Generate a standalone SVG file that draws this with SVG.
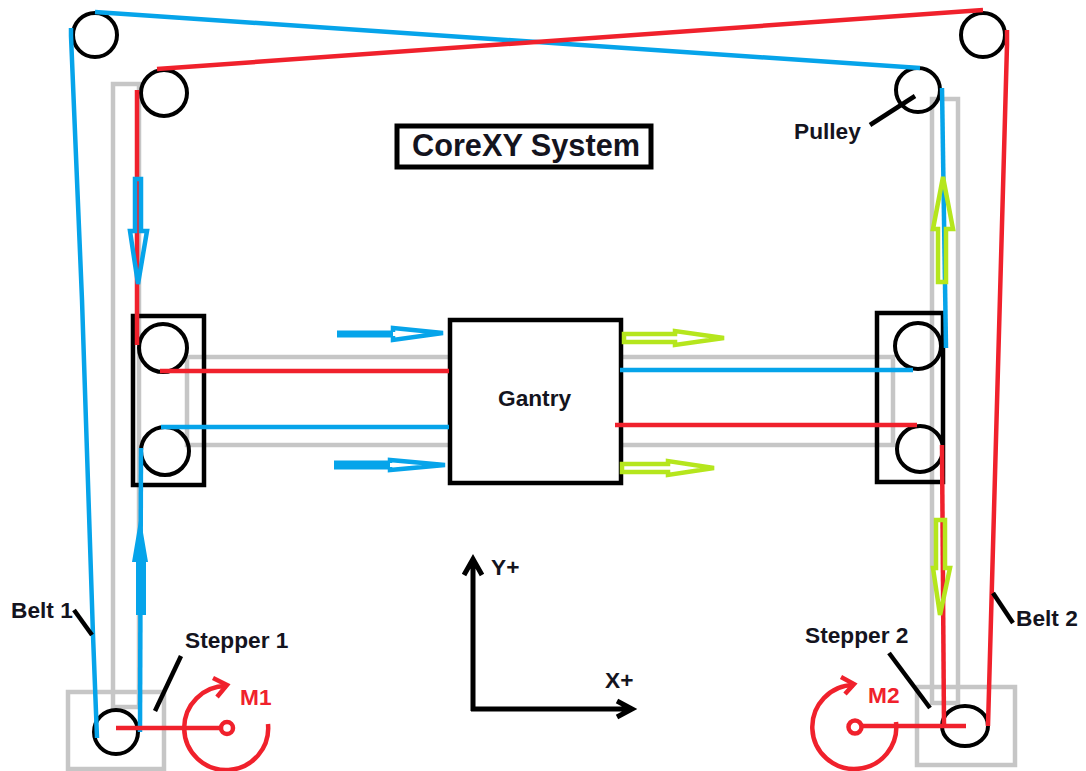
<svg xmlns="http://www.w3.org/2000/svg" width="1086" height="771" viewBox="0 0 1086 771">
<style>
text{font-family:"Liberation Sans",Arial,sans-serif;font-weight:bold;font-size:22.7px;fill:#14141e}
.rail{fill:none;stroke:#c6c6c6;stroke-width:4.5}
.box{fill:none;stroke:#000;stroke-width:4.5}
.pul{fill:none;stroke:#000;stroke-width:4}
.b{fill:none;stroke:#06a4ea;stroke-width:4.5}
.r{fill:none;stroke:#f0212c;stroke-width:4.5}
.lead{fill:none;stroke:#000;stroke-width:4.5}
.ah{fill:none;stroke-width:4.5;stroke-linejoin:miter}
.ab{stroke:#06a4ea}
.ag{stroke:#b5e61d}
.m{fill:none;stroke:#f0212c;stroke-width:4.5}
.ax{fill:none;stroke:#000;stroke-width:5}
</style>
<rect width="1086" height="771" fill="#fff"/>
<g id="rails">
<rect class="rail" x="113" y="84" width="26" height="623"/>
<rect class="rail" x="932" y="99" width="26" height="604"/>
<rect class="rail" x="187" y="357" width="706" height="88"/>
</g>
<g id="stepper-1-body"><rect class="rail" x="68" y="692" width="96" height="77"/></g>
<g id="stepper-2-body"><rect class="rail" x="917" y="687" width="98" height="78"/></g>
<g id="carriage-left"><rect class="box" x="133" y="316" width="71" height="169"/></g>
<g id="carriage-right"><rect class="box" x="877" y="313" width="66" height="169"/></g>
<g id="gantry"><rect x="450" y="320" width="171" height="163" fill="#fff" stroke="#000" stroke-width="4.5"/><text x="498" y="406">Gantry</text></g>
<g id="title"><rect x="397" y="126" width="254" height="41" fill="#fff" stroke="#000" stroke-width="5"/><text x="412" y="156" style="font-size:30.7px">CoreXY System</text></g>
<g id="pulley-tl-outer"><circle class="pul" cx="95" cy="35" r="22"/></g>
<g id="pulley-tl-inner"><circle class="pul" cx="164" cy="93" r="23"/></g>
<g id="pulley-tr-outer"><circle class="pul" cx="983" cy="35" r="22"/></g>
<g id="pulley-tr-inner"><circle class="pul" cx="918" cy="90" r="22"/></g>
<g id="pulley-left-upper"><circle class="pul" cx="163" cy="348" r="24"/></g>
<g id="pulley-left-lower"><circle class="pul" cx="165" cy="451" r="24"/></g>
<g id="pulley-right-upper"><circle class="pul" cx="918" cy="346" r="23"/></g>
<g id="pulley-right-lower"><circle class="pul" cx="920" cy="449" r="23"/></g>
<g id="pulley-stepper-1"><circle class="pul" cx="116" cy="732" r="22"/></g>
<g id="pulley-stepper-2"><ellipse class="pul" cx="965" cy="726" rx="23" ry="20"/></g>
<g id="connectors">
<path class="b" d="M71 28V36L82 300L93 635L97 738"/>
<path class="b" d="M95 12L920 68"/>
<path class="b" d="M942 88L946 348"/>
<path class="b" d="M161 427H449"/>
<path class="b" d="M620 370H913"/>
<path class="b" d="M141 448L140 732"/>
<path class="r" d="M157 69L983 10"/>
<path class="r" d="M137 90V345"/>
<path class="r" d="M160 371H449"/>
<path class="r" d="M615 425H917"/>
<path class="r" d="M942 445L944 726"/>
<path class="r" d="M1007 30V45L988 726"/>
<path d="M136 615V562H132L140 515L148 562H146V615Z" fill="#06a4ea"/>
<path class="ah ab" d="M135 179H141V231H147L138 284L130 231H135Z"/>
<path class="ah ag" d="M938 282H946V229H953L943 177L933 229H938Z"/>
<path class="ah ag" d="M936 520H945V568H950L940 615L933 568H936Z"/>
<path d="M337 334H393" stroke="#06a4ea" stroke-width="7" fill="none"/>
<path class="ah ab" d="M393 332V328L443 333L393 340V336"/>
<path d="M334 465H390" stroke="#06a4ea" stroke-width="9" fill="none"/>
<path class="ah ab" d="M390 463V460L445 465L390 470V467"/>
<path class="ah ag" d="M624 334H675V331L724 338L675 345V342H624Z"/>
<path class="ah ag" d="M622 464H668V461L714 468L668 475V472H622Z"/>
<path class="lead" d="M870 125L915 96"/>
<path class="lead" d="M74 610L92 635"/>
<path class="lead" d="M155 711L181 656"/>
<path class="lead" d="M889 653L930 708"/>
<path class="lead" d="M993 593L1013 623"/>
</g>
<g id="motor-1">
<path class="m" d="M116 728H221"/><circle class="m" cx="227" cy="728" r="6"/>
<path class="m" d="M268 724A42 42 0 1 1 227 686"/><path class="m" d="M213 678L227 685L217 697"/>
<text x="240" y="705" style="fill:#f0212c">M1</text>
</g>
<g id="motor-2">
<path class="m" d="M862 726H966"/><circle class="m" cx="855" cy="727" r="6.5"/>
<path class="m" d="M896 722A42 42 0 1 1 854 685"/><path class="m" d="M841 677L854 684L845 694"/>
<text x="868" y="703" style="fill:#f0212c">M2</text>
</g>
<g id="axes">
<path class="ax" d="M473 711V560M464 575L473 559L482 575"/>
<path class="ax" d="M471 709H632M617 701L632 709L617 717"/>
<text x="491" y="575">Y+</text>
<text x="605" y="688">X+</text>
</g>
<g id="labels">
<text x="794" y="139">Pulley</text>
<text x="11" y="618">Belt 1</text>
<text x="185" y="648">Stepper 1</text>
<text x="805" y="643">Stepper 2</text>
<text x="1016" y="626">Belt 2</text>
</g>
</svg>
